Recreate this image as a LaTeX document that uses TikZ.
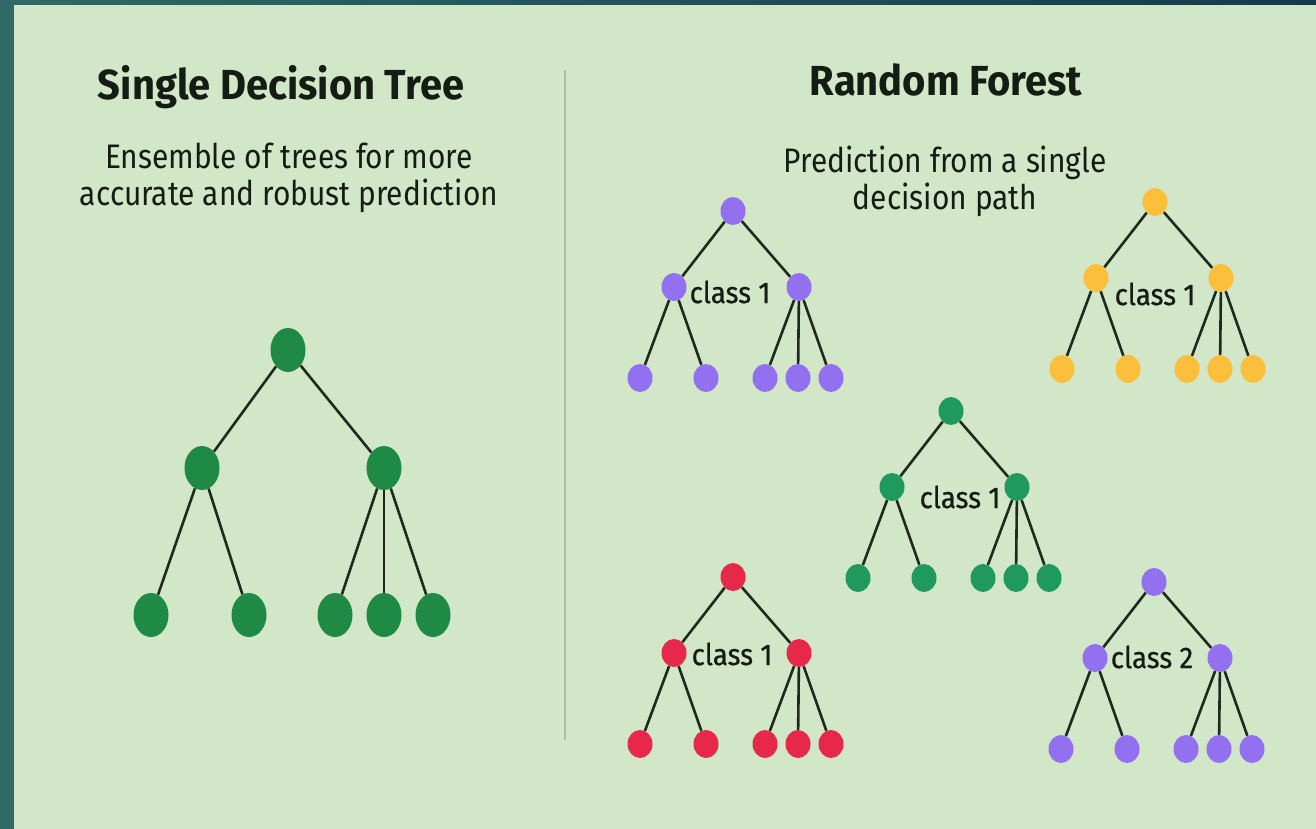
\documentclass[tikz,border=0pt]{standalone}
\usepackage{fontspec}
\setmainfont{Fira Sans}
\newfontfamily\titlefont[FakeStretch=0.95]{Fira Sans}
\newfontfamily\subfont[FakeStretch=0.88]{Fira Sans}
\newfontfamily\labfont[FakeStretch=0.92,FakeBold=0.6]{Fira Sans}
\usetikzlibrary{shapes.geometric}
\definecolor{teal}{HTML}{2F6A66}
\definecolor{navy}{HTML}{143A4C}
\definecolor{panel}{HTML}{D1E7C7}
\definecolor{divider}{HTML}{A8BEA6}
\definecolor{bigg}{HTML}{1F8A46}
\definecolor{cpurple}{HTML}{9370F0}
\definecolor{cyellow}{HTML}{FBBF3C}
\definecolor{cgreen}{HTML}{1F9A5C}
\definecolor{cred}{HTML}{E8284B}
\definecolor{edgec}{HTML}{1F2A1F}
\definecolor{txt}{HTML}{141C14}
\tikzset{
  bignode/.style={ellipse, fill=bigg, minimum width=35pt, minimum height=44pt, inner sep=0pt},
  smallnode/.style={ellipse, fill=#1, minimum width=25pt, minimum height=28pt, inner sep=0pt},
  link/.style={draw=edgec, line width=2.6pt},
  title/.style={font=\titlefont\bfseries\fontsize{42}{46}\selectfont, text=txt},
  subtitle/.style={font=\subfont\fontsize{34}{37}\selectfont, text=txt, align=center},
  classlab/.style={font=\labfont\fontsize{30}{32}\selectfont, text=txt, inner sep=0pt}
}
% #1 prefix, #2 colour, #3 root x, #4 root y, #5 label, #6 label x, #7 label y
\newcommand\foresttree[7]{%
  \node[smallnode=#2] (#1r) at (#3,#4) {};
  \node[smallnode=#2] (#1a) at ({#3-59},{#4+76}) {};
  \node[smallnode=#2] (#1b) at ({#3+66},{#4+76}) {};
  \node[smallnode=#2] (#1l1) at ({#3-93},{#4+167}) {};
  \node[smallnode=#2] (#1l2) at ({#3-27},{#4+167}) {};
  \node[smallnode=#2] (#1l3) at ({#3+32},{#4+167}) {};
  \node[smallnode=#2] (#1l4) at ({#3+65},{#4+167}) {};
  \node[smallnode=#2] (#1l5) at ({#3+98},{#4+167}) {};
  \draw[link] (#1r) -- (#1a);
  \draw[link] (#1r) -- (#1b);
  \draw[link] (#1a) -- (#1l1);
  \draw[link] (#1a) -- (#1l2);
  \draw[link] (#1b) -- (#1l3);
  \draw[link] (#1b) -- (#1l4);
  \draw[link] (#1b) -- (#1l5);
  \node[classlab] (#1lab) at (#6,#7) {#5};
}
\begin{document}
\begin{tikzpicture}[x=1pt,y=-1pt]
\useasboundingbox (0,0) rectangle (1316,829);
\fill[teal] (0,0) rectangle (1316,829);
\shade[left color=teal, right color=navy] (0,0) rectangle (1316,5);
\fill[panel] (14,5) rectangle (1316,829);
\draw[divider, line width=2pt] (565,70) coordinate (d1) -- (565,740) coordinate (d2);

\node[title] (t1) at (281,87) {Single Decision Tree};
\node[subtitle] (s1) at (289,178) {Ensemble of trees for more\\accurate and robust prediction};
\node[title] (t2) at (946,80) {Random Forest};
\node[subtitle] (s2) at (945,181) {Prediction from a single\\decision path};

% big tree
\node[bignode] (R) at (288,350) {};
\node[bignode] (A) at (202,468) {};
\node[bignode] (B) at (384,468) {};
\node[bignode] (L1) at (151,615) {};
\node[bignode] (L2) at (249,615) {};
\node[bignode] (L3) at (335,615) {};
\node[bignode] (L4) at (384,615) {};
\node[bignode] (L5) at (433,615) {};
\draw[link] (R) -- (A);
\draw[link] (R) -- (B);
\draw[link] (A) -- (L1);
\draw[link] (A) -- (L2);
\draw[link] (B) -- (L3);
\draw[link] (B) -- (L4);
\draw[link] (B) -- (L5);

\foresttree{p}{cpurple}{733}{211}{class 1}{730}{292}
\foresttree{y}{cyellow}{1155}{202}{class 1}{1155}{294}
\foresttree{g}{cgreen}{951}{411}{class 1}{960}{497}
\foresttree{r}{cred}{733}{577}{class 1}{732}{654}
\foresttree{q}{cpurple}{1154}{582}{class 2}{1152}{657}
\end{tikzpicture}
\end{document}
